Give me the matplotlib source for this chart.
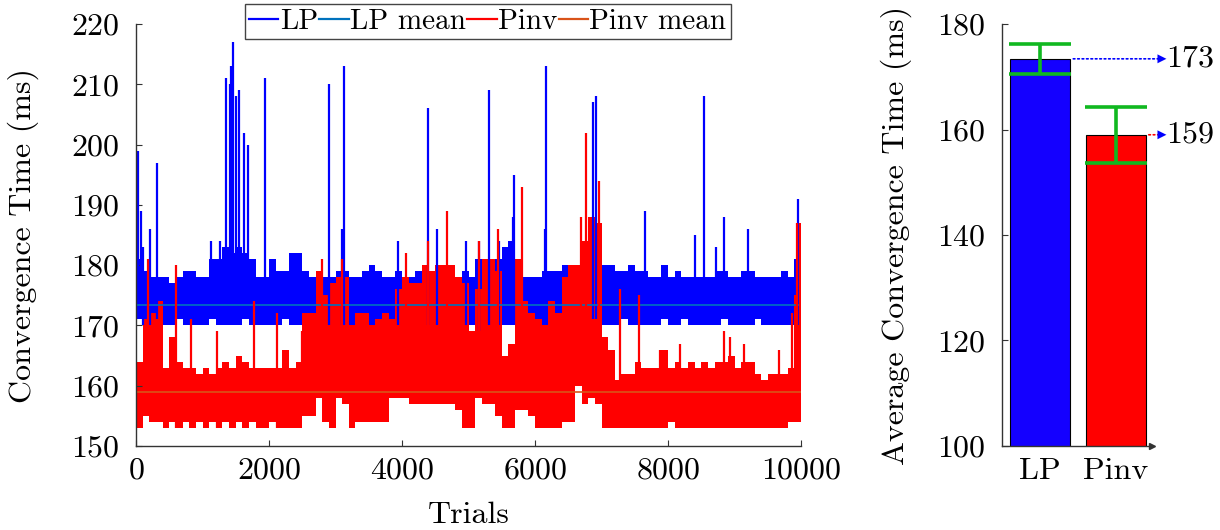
import numpy as np
import matplotlib.pyplot as plt
from matplotlib.lines import Line2D

plt.rcParams['font.family'] = 'cmr10'
plt.rcParams['mathtext.fontset'] = 'cm'
plt.rcParams['axes.formatter.use_mathtext'] = True
plt.rcParams['axes.unicode_minus'] = False

# convergence time per trial, summarised as min/max per block of 100 trials
block_edges = np.arange(0, 10001, 100)

lp_hi = [181, 179, 178, 178, 178, 177, 178, 179, 179, 178,
         178, 181, 181, 183, 182, 183, 182, 181, 178, 178,
         181, 179, 179, 182, 182, 179, 178, 179, 178, 178,
         179, 179, 178, 178, 179, 180, 179, 178, 178, 179,
         178, 178, 179, 178, 179, 178, 178, 179, 178, 179,
         178, 181, 180, 181, 181, 183, 184, 181, 178, 178,
         178, 179, 179, 179, 180, 179, 179, 179, 180, 181,
         180, 180, 179, 179, 180, 179, 179, 178, 178, 180,
         178, 179, 178, 178, 178, 178, 178, 179, 179, 178,
         178, 179, 179, 178, 178, 178, 178, 179, 178, 181]
lp_lo = [171, 170, 170, 171, 170, 170, 171, 170, 170, 170,
         170, 171, 170, 170, 170, 170, 171, 170, 170, 170,
         170, 170, 171, 170, 170, 170, 170, 171, 170, 170,
         170, 170, 170, 171, 170, 170, 170, 170, 171, 170,
         170, 171, 170, 170, 170, 170, 171, 170, 170, 170,
         170, 169, 170, 170, 170, 170, 170, 170, 171, 170,
         170, 170, 170, 170, 171, 170, 170, 170, 171, 171,
         170, 170, 170, 171, 170, 170, 170, 170, 170, 171,
         170, 170, 171, 170, 170, 170, 170, 170, 171, 170,
         170, 170, 170, 171, 170, 170, 170, 170, 170, 170]
lp_spike_trial = [35, 75, 110, 205, 320, 1120, 1270, 1360, 1415, 1435,
                  1465, 1505, 1550, 1625, 1685, 1940, 2902, 3090, 3120, 3935,
                  4395, 4531, 4960, 5150, 5303, 5464, 5670, 5690, 6150, 6165,
                  6867, 6917, 7659, 8411, 8541, 8722, 8837, 9203, 9955, 9980]
lp_spike_value = [199, 189, 183, 186, 197, 184, 184, 211, 210, 213,
                  217, 208, 209, 202, 200, 211, 210, 186, 213, 184,
                  206, 186, 184, 184, 209, 184, 188, 195, 186, 213,
                  207, 208, 189, 185, 208, 183, 188, 186, 191, 187]

pinv_hi = [164, 171, 172, 174, 163, 168, 164, 163, 163, 162,
           163, 162, 163, 164, 163, 165, 164, 163, 163, 163,
           163, 163, 166, 163, 164, 172, 172, 179, 175, 177,
           178, 178, 170, 172, 172, 170, 171, 172, 171, 176,
           178, 177, 177, 180, 179, 180, 180, 180, 178, 177,
           169, 176, 181, 181, 179, 165, 167, 181, 174, 172,
           171, 170, 174, 172, 178, 180, 180, 184, 188, 187,
           168, 166, 161, 162, 162, 164, 163, 163, 163, 166,
           163, 164, 163, 164, 163, 164, 163, 164, 164, 165,
           163, 164, 164, 162, 161, 162, 162, 162, 163, 175]
pinv_lo = [153, 155, 154, 154, 153, 154, 153, 154, 153, 154,
           153, 154, 153, 154, 153, 154, 153, 154, 153, 153,
           154, 153, 153, 153, 153, 155, 155, 158, 154, 153,
           158, 157, 153, 154, 154, 154, 154, 154, 158, 158,
           158, 157, 157, 157, 157, 157, 157, 157, 156, 153,
           153, 158, 157, 157, 155, 153, 153, 156, 156, 155,
           153, 153, 153, 153, 154, 154, 160, 157, 158, 157,
           153, 153, 153, 153, 153, 153, 153, 153, 153, 153,
           154, 153, 153, 153, 153, 153, 153, 153, 153, 153,
           153, 153, 153, 153, 153, 153, 153, 153, 154, 154]
pinv_spike_trial = [175, 605, 830, 1215, 1775, 2125, 2500, 2792, 3093, 4060,
                    4395, 4671, 5150, 5439, 5800, 6690, 6770, 6955, 7281, 7559,
                    7885, 8185, 8838, 8937, 9138, 9675, 9864, 9935, 9990]
pinv_spike_value = [181, 180, 171, 169, 174, 172, 169, 181, 181, 182,
                    184, 189, 184, 186, 193, 188, 202, 194, 176, 175,
                    166, 167, 169, 168, 167, 166, 172, 187, 187]

lp_mean = 173.4
pinv_mean = 159.0

methods = ['LP', 'Pinv']
avg_time = [173.4, 159.0]
std_time = [2.8, 5.3]

blue = '#0000ff'
red = '#ff0000'
fs = 23


def draw_trace(ax, lo, hi, spike_t, spike_v, color):
    ax.stairs(hi, block_edges, baseline=lo, fill=True, color=color, lw=0)
    # single-trial outliers rising out of their block
    spike_t = np.asarray(spike_t)
    base = np.asarray(lo)[np.minimum(spike_t // 100, len(lo) - 1)]
    ax.vlines(spike_t, base, spike_v, color=color, lw=1.6)


fig = plt.figure(figsize=(12.2, 5.3), dpi=100)
ax = fig.add_axes([0.1115, 0.1585, 0.5451, 0.7962])
ax2 = fig.add_axes([0.8213, 0.1585, 0.123, 0.7962])

draw_trace(ax, lp_lo, lp_hi, lp_spike_trial, lp_spike_value, blue)
ax.axhline(lp_mean, color='#0072bd', lw=1.2)
draw_trace(ax, pinv_lo, pinv_hi, pinv_spike_trial, pinv_spike_value, red)
ax.axhline(pinv_mean, color='#d95319', lw=1.2)

ax.set_xlim(0, 10000)
ax.set_ylim(150, 220)
ax.set_xticks(range(0, 10001, 2000))
ax.set_yticks(range(150, 221, 10))
ax.set_xlabel('Trials', fontsize=fs, labelpad=12)
ax.set_ylabel('Convergence Time (ms)', fontsize=fs, labelpad=23)

handles = [Line2D([], [], color=blue, lw=1.6),
           Line2D([], [], color='#0072bd', lw=1.6),
           Line2D([], [], color=red, lw=1.6),
           Line2D([], [], color='#d95319', lw=1.6)]
leg = ax.legend(handles, ['LP', 'LP mean', 'Pinv', 'Pinv mean'], ncol=4,
                loc='upper center', bbox_to_anchor=(0.529, 1.047),
                fontsize=21, frameon=True, fancybox=False, framealpha=1,
                handlelength=1.0, handletextpad=0.05, columnspacing=0.05,
                borderpad=0.15, borderaxespad=0)
leg.get_frame().set_edgecolor('#444444')
leg.get_frame().set_linewidth(1.0)

# bar chart of the averages
x = np.arange(len(methods))
ax2.bar(x, avg_time, width=0.8, color=['#1400ff', red], edgecolor='black', lw=0.8)
ax2.errorbar(x, avg_time, yerr=std_time, fmt='none', ecolor='#10b820',
             elinewidth=2.6, capsize=22, capthick=2.6)
for i, val in enumerate(avg_time):
    shaft = [blue, red][i]
    ax2.annotate('', xy=(1.67, val), xytext=(i + 0.4, val),
                 arrowprops=dict(arrowstyle='-', color=shaft, ls=':', lw=1.2),
                 annotation_clip=False)
    ax2.annotate('', xy=(1.67, val), xytext=(1.55, val),
                 arrowprops=dict(arrowstyle='-|>', color=blue, lw=0.01,
                                 mutation_scale=16, shrinkA=0, shrinkB=0),
                 annotation_clip=False)
    ax2.text(1.67, val, f'{val:.0f}', fontsize=fs, va='center', ha='left',
             clip_on=False)

ax2.set_xlim(-0.507, 1.48)
ax2.set_ylim(100, 180)
ax2.set_xticks(x)
ax2.set_xticklabels(methods)
ax2.set_yticks(range(100, 181, 20))
ax2.set_ylabel('Average Convergence Time (ms)', fontsize=fs, labelpad=18)
ax2.plot(1, 0, '>', color='#333333', ms=5, transform=ax2.transAxes, clip_on=False)

for a in (ax, ax2):
    for side in ('top', 'right'):
        a.spines[side].set_visible(False)
    for side in ('left', 'bottom'):
        a.spines[side].set_color('#333333')
        a.spines[side].set_linewidth(1.0)
    a.tick_params(direction='in', length=4, width=0.8, colors='#333333',
                  labelcolor='black', labelsize=fs)
    a.tick_params(axis='y', pad=12)
    a.tick_params(axis='x', pad=8)
ax2.tick_params(axis='x', length=0)

fig.savefig('out.png', dpi=100)
